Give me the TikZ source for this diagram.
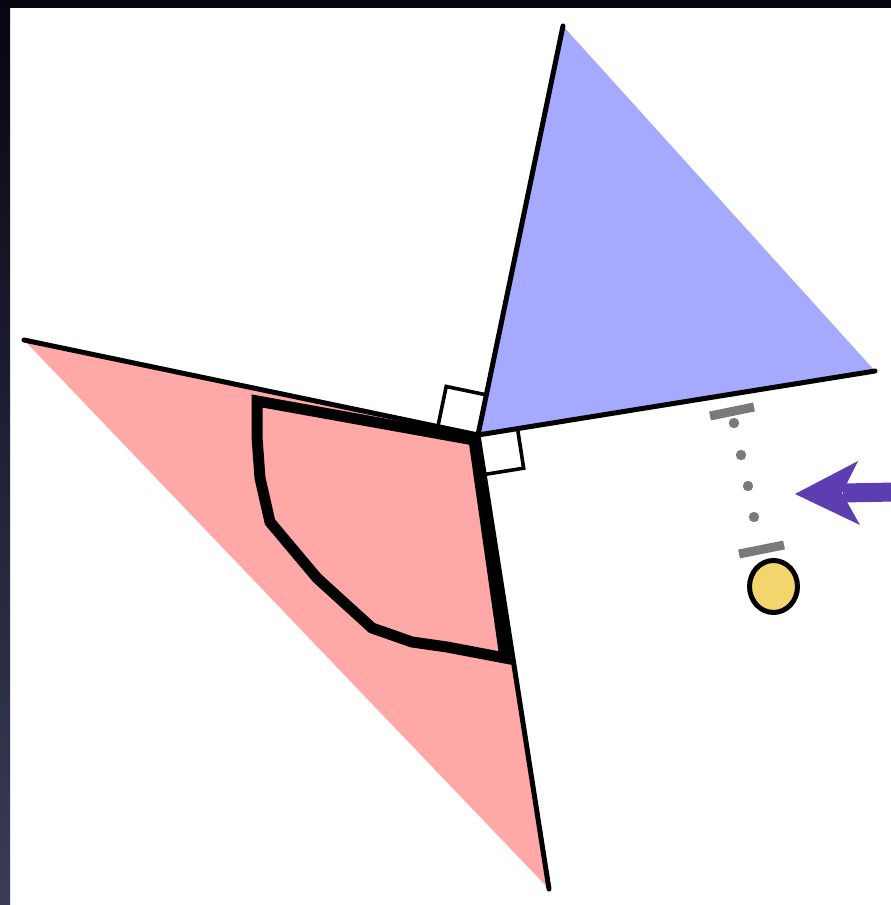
\documentclass[tikz,border=0pt]{standalone}
\usetikzlibrary{calc}
\definecolor{redfill}{RGB}{255,168,168}
\definecolor{bluefill}{RGB}{166,170,255}
\definecolor{bargray}{RGB}{122,122,122}
\definecolor{yellowfill}{RGB}{243,213,110}
\definecolor{arrowpurple}{RGB}{92,62,178}
\definecolor{frametop}{RGB}{6,6,18}
\definecolor{framebot}{RGB}{58,60,88}
\tikzset{
  edge/.style={line width=5pt, line cap=round},
  marker/.style={line width=3.6pt, line join=miter},
  outline/.style={line width=11pt, line join=miter},
  gbar/.style={line width=9pt, draw=bargray},
  gdot/.style={fill=bargray, draw=none},
}
\begin{document}
\begin{tikzpicture}[x=1pt,y=-1pt]
\useasboundingbox (0,0) rectangle (891,905);
% frame
\fill[white] (0,0) rectangle (891,905);
\shade[top color=frametop, bottom color=framebot] (0,0) rectangle (10,905);
\fill[frametop] (0,0) rectangle (891,8);
% vertices
\coordinate (O) at (478,435);
\coordinate (L) at (24,340);
\coordinate (B) at (549,889);
\coordinate (T) at (563,26);
\coordinate (R) at (875,371);
% triangles
\fill[redfill] (L) -- (O) -- (B) -- cycle;
\fill[bluefill] (T) -- (O) -- (R) -- cycle;
% thick outline
\draw[outline] (257,401) -- (474,440) -- (505,658) -- (447,647) -- (412,642)
  -- (372,628) -- (317,578) -- (270,522) -- (260,478) -- (257,437) -- cycle;
% edges
\draw[edge] (L) -- (O) -- (B);
\draw[edge] (T) -- (O) -- (R);
% right-angle markers
\coordinate (u1) at ($(O)!41pt!(L)$);
\coordinate (u3) at ($(O)!41pt!(T)$);
\coordinate (u2) at ($(u1)+(u3)-(O)$);
\draw[marker] (u1) -- (u2) -- (u3);
\coordinate (w1) at ($(O)!40pt!(R)$);
\coordinate (w3) at ($(O)!40pt!(B)$);
\coordinate (w2) at ($(w1)+(w3)-(O)$);
\draw[marker] (w1) -- (w2) -- (w3);
% gray dotted gauge
\coordinate (b1a) at (710,416);
\coordinate (b1b) at (754,407);
\coordinate (b2a) at (739,554);
\coordinate (b2b) at (784,545);
\draw[gbar] (b1a) -- (b1b);
\draw[gbar] (b2a) -- (b2b);
\fill[gdot] (734,423) circle (5.2);
\fill[gdot] (741,455) circle (5.2);
\fill[gdot] (748,486) circle (5.2);
\fill[gdot] (754,517) circle (5.2);
% yellow ellipse
\filldraw[fill=yellowfill, draw=black, line width=5pt] (773.5,586.5) ellipse [x radius=24, y radius=26];
% purple arrow
\coordinate (atip) at (795,494);
\coordinate (astart) at (895,492);
\draw[arrowpurple, line width=19pt] (astart) -- (843,493);
\fill[arrowpurple] (atip) -- (858,461) -- (842,493) -- (860,525) -- cycle;
\end{tikzpicture}
\end{document}
